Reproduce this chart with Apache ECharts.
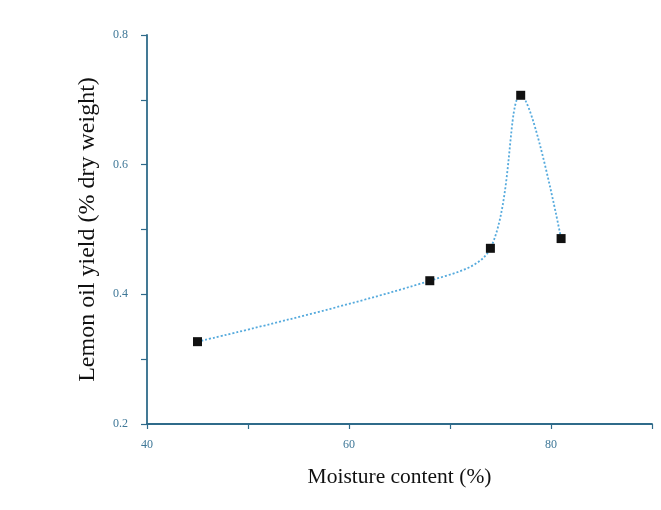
<!DOCTYPE html>
<html>
<head>
    <meta charset="utf-8">
    <title>Lemon oil yield</title>
    <script src="https://cdn.jsdelivr.net/npm/echarts@6/dist/echarts.min.js"></script>
    <style>
        html, body { margin: 0; padding: 0; background: #fff; }
        #chart { width: 661px; height: 510px; }
    </style>
</head>
<body>
<div id="chart"></div>
<script type="text/javascript">
    // 数据
    var moisture = [45, 68, 74, 77, 81];
    var oilYield = [0.327, 0.421, 0.471, 0.707, 0.486];
    var xTicks = [40, 60, 80];
    var yTicks = [0.2, 0.4, 0.6, 0.8];

    var points = moisture.map(function (x, i) { return [x, oilYield[i]]; });

    var axisColor = '#2f6b8a';
    var labelColor = '#3f7898';

    var myChart = echarts.init(document.getElementById('chart'));

    myChart.setOption({
        animation: false,
        grid: { left: 147, right: 9, top: 35, bottom: 86 },
        xAxis: {
            type: 'value',
            min: 40,
            max: 90,
            interval: 10,
            name: 'Moisture content (%)',
            nameLocation: 'middle',
            nameGap: 42,
            nameTextStyle: { fontFamily: 'Liberation Serif', fontSize: 21.5, color: '#111' },
            splitLine: { show: false },
            axisLine: { lineStyle: { color: axisColor, width: 1.8 } },
            axisTick: { length: 5, lineStyle: { color: axisColor, width: 1.2 } },
            axisLabel: {
                fontFamily: 'Liberation Serif', fontSize: 12, color: labelColor, margin: 15,
                formatter: function (v) { return xTicks.indexOf(v) >= 0 ? v : ''; }
            }
        },
        yAxis: {
            type: 'value',
            min: 0.2,
            max: 0.8,
            interval: 0.1,
            name: 'Lemon oil yield (% dry weight)',
            nameLocation: 'middle',
            nameGap: 47,
            nameTextStyle: { fontFamily: 'Liberation Serif', fontSize: 24, color: '#111' },
            splitLine: { show: false },
            axisLine: { show: true, lineStyle: { color: axisColor, width: 1.8 } },
            axisTick: { show: true, length: 6, lineStyle: { color: axisColor, width: 1.2 } },
            axisLabel: {
                fontFamily: 'Liberation Serif', fontSize: 12, color: labelColor, margin: 19,
                formatter: function (v) {
                    var r = Math.round(v * 10) / 10;
                    return yTicks.indexOf(r) >= 0 && Math.abs(r - v) < 1e-6 ? r.toFixed(1) : '';
                }
            }
        },
        series: [{
            type: 'line',
            data: points,
            smooth: 0.35,
            symbol: 'rect',
            symbolSize: 9,
            itemStyle: { color: '#111' },
            lineStyle: { color: '#55aadd', width: 1.8, type: [2, 2] }
        }]
    });
</script>
</body>
</html>
